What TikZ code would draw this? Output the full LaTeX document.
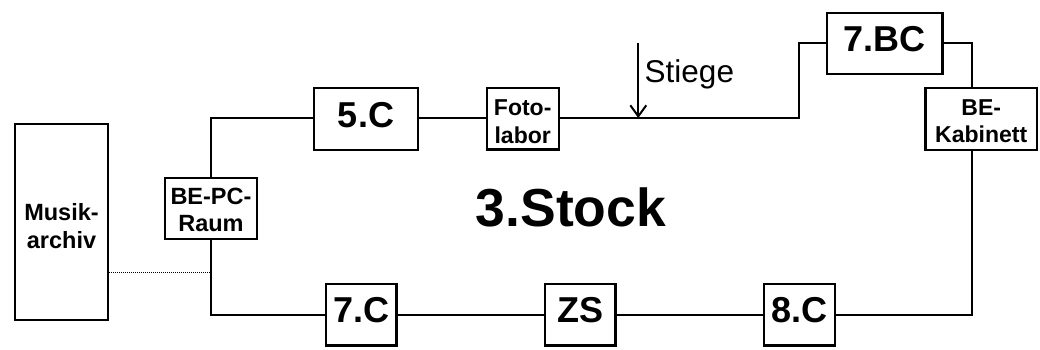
\documentclass[tikz,border=0pt]{standalone}
\usepackage{fontspec}
\setmainfont{Liberation Sans}
\usetikzlibrary{arrows.meta}
\newcommand\twolines[4]{\raisebox{#1pt}[0pt][0pt]{\makebox[0pt]{#2}}\raisebox{#3pt}[0pt][0pt]{\makebox[0pt]{#4}}}
\tikzset{
  room/.style={draw=black,line width=2.4pt,fill=white,inner sep=0pt,font=\bfseries},
  big/.style={room,text height=26pt,text depth=10pt,font=\fontsize{36}{36}\selectfont\bfseries},
  mid/.style={room,font=\fontsize{23.5}{28}\selectfont\bfseries},
  small/.style={room,font=\fontsize{23}{27.6}\selectfont\bfseries},
  wire/.style={draw=black,line width=2pt,line join=miter},
}
\begin{document}
\begin{tikzpicture}[x=1pt,y=-1pt]
\useasboundingbox (0,0) rectangle (1040,350);
\coordinate (tl) at (211,118);
\coordinate (bl) at (211,314.8);
\coordinate (j1) at (799.3,118);
\coordinate (j2) at (799.3,42.7);
\coordinate (j3) at (971.7,42.7);
\coordinate (br) at (971.7,314.8);
\coordinate (dot) at (211,272);
\coordinate (stair) at (638.3,42.7);
\coordinate (stairend) at (638.3,118);
\node[big,minimum width=104pt,minimum height=62pt] (c5) at (366,119) {5.C};
\node[big,minimum width=70.5pt,minimum height=61.5pt] (c7) at (361.2,314.8) {7.C};
\node[big,minimum width=70.5pt,minimum height=61.5pt] (zs) at (580.3,314.8) {ZS};
\node[big,minimum width=71pt,minimum height=61.5pt] (c8) at (799.5,314.8) {8.C};
\node[big,minimum width=115.3pt,minimum height=61pt] (bc) at (884.7,43.5) {7.BC};
\node[small,minimum width=72pt,minimum height=61pt] (foto) at (522.7,118.8) {\twolines{3.1}{Foto-}{-24.5}{labor}};
\node[small,minimum width=111.7pt,minimum height=61.4pt] (kab) at (981.2,119) {\twolines{4}{BE-}{-23.7}{Kabinett}};
\node[mid,minimum width=92.5pt,minimum height=61pt] (pc) at (211,208.5) {\twolines{4.5}{BE-PC-}{-23.2}{Raum}};
\node[mid,minimum width=93pt,minimum height=196.5pt] (mus) at (61.5,222) {\twolines{2}{Musik-}{-26}{archiv}};
\node[anchor=base west,font=\fontsize{31.5}{31.5}\selectfont,inner sep=0pt] (st) at (644.5,82.3) {Stiege};
\node[anchor=base,font=\fontsize{53.5}{53.5}\selectfont\bfseries,inner sep=0pt] (title) at (571,226.7) {3.Stock};
\begin{scope}[on background layer/.try]
\draw[wire] (c5.west |- tl) -- (tl) -- (pc.north);
\draw[wire] (c5.east |- tl) -- (foto.west |- tl);
\draw[wire] (foto.east |- stairend) -- (j1) -- (j2) -- (bc.west |- j2);
\draw[wire] (bc.east |- j3) -- (j3) -- (kab.north -| j3);
\draw[wire] (kab.south -| br) -- (br) -- (c8.east |- br);
\draw[wire] (c8.west |- br) -- (zs.east |- br);
\draw[wire] (zs.west |- br) -- (c7.east |- br);
\draw[wire] (c7.west |- br) -- (bl) -- (pc.south -| bl);
\draw[densely dotted,line width=1pt] (mus.east |- dot) -- (dot);
\draw[line width=2pt,-{Straight Barb[length=11pt,width=16pt,line width=2pt]}] (stair) -- (stairend);
\end{scope}
\end{tikzpicture}
\end{document}
